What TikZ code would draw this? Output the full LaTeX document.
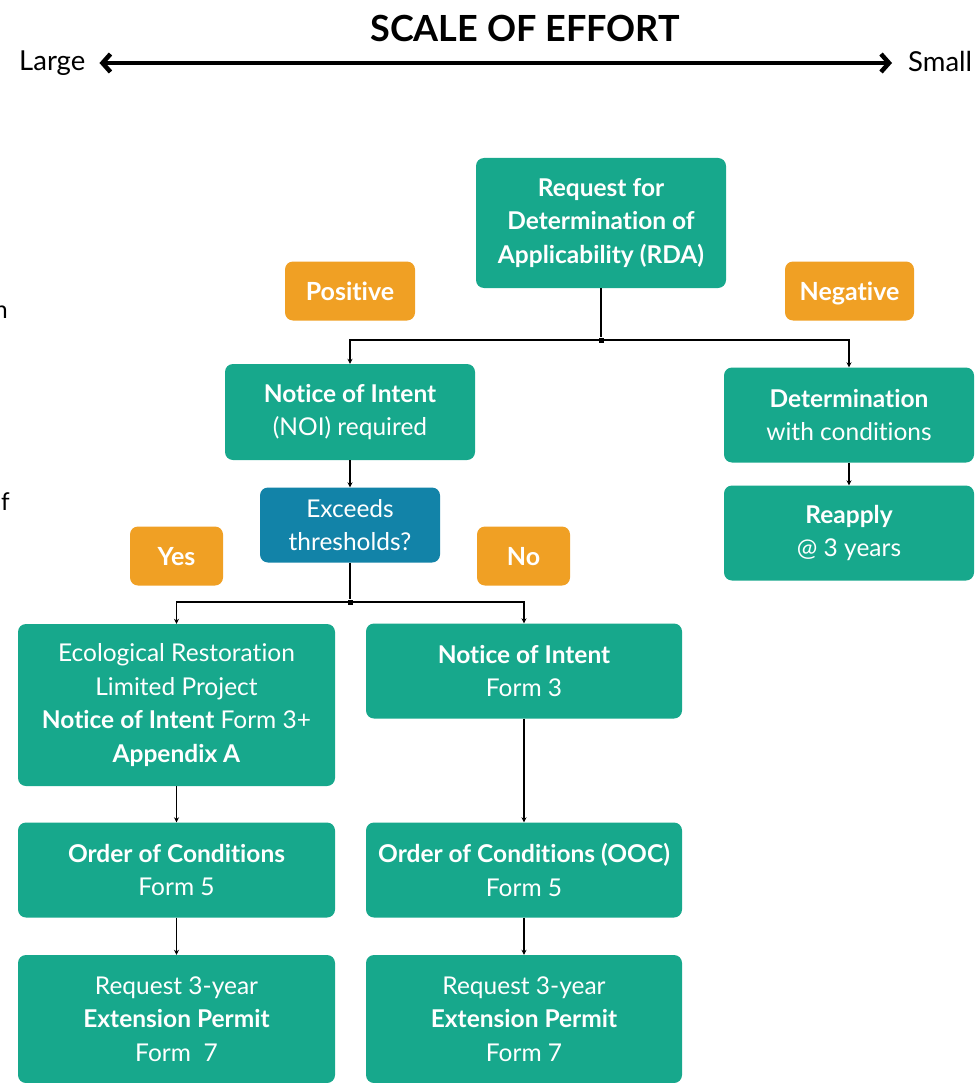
\documentclass[tikz,border=0pt]{standalone}
\usepackage{fontspec}
\setmainfont{Lato}[Ligatures=NoCommon]
\usetikzlibrary{arrows.meta}
\definecolor{boxteal}{RGB}{23,168,140}
\definecolor{tagorange}{RGB}{240,160,36}
\definecolor{askblue}{RGB}{18,131,168}
\tikzset{
  stepbox/.style={fill=boxteal, text=white, rounded corners=8pt, align=center, inner sep=0pt,
    font=\fontsize{24.5}{33.5}\selectfont},
  tagbox/.style={fill=tagorange, text=white, rounded corners=8pt, inner sep=0pt,
    minimum height=59pt, text height=19.5pt, text depth=1.5pt, font=\fontsize{25}{28}\selectfont\bfseries},
  askbox/.style={fill=askblue, text=white, rounded corners=8pt, align=center, inner sep=0pt,
    minimum width=180pt, minimum height=75pt, font=\fontsize{24.5}{33.5}\selectfont},
  junc/.style={fill=black, inner sep=0pt, minimum size=5pt},
  wire/.style={line width=1.2pt},
  link/.style={line width=1.2pt, -{Stealth[length=5pt,width=5pt]}},
  endword/.style={inner sep=0pt, font=\fontsize{27.5}{30}\selectfont}
}
\begin{document}
\begin{tikzpicture}[x=1pt,y=-1pt]
            \useasboundingbox (0,0) rectangle (979,1083);

            % scale of effort
            \node[font=\fontsize{36}{40}\selectfont\bfseries] (title) at (525,28) {SCALE OF EFFORT};
            \node[endword, anchor=west] (large) at (19,63) {Large};
            \node[endword, anchor=west] (small) at (908,61) {Small};
            \draw[line width=4.5pt, {Straight Barb[length=8pt,width=18pt]}-{Straight Barb[length=8pt,width=18pt]}, shorten <=14pt, shorten >=16pt] (large.east) -- (small.west |- large.east);

            % cut-off letters at the left edge
            \node[endword, font=\fontsize{24.5}{28}\selectfont, anchor=base east] (cutn) at (8,318) {n};
            \node[endword, font=\fontsize{24.5}{28}\selectfont, anchor=base east] (cutf) at (10,510) {f};

            % RDA level
            \node[stepbox, minimum width=250pt, minimum height=130pt] (rda) at (601,223) {\bfseries Request for\\\bfseries Determination of\\\bfseries Applicability (RDA)};
            \node[tagbox, minimum width=130pt] (pos) at (350,291) {Positive};
            \node[tagbox, minimum width=129pt] (neg) at (849.5,291) {Negative};

            \node[stepbox, minimum width=250pt, minimum height=96pt] (noi) at (350,412) {\textbf{Notice of Intent}\\(NOI) required};
            \node[stepbox, minimum width=250pt, minimum height=95pt] (det) at (849,415) {\textbf{Determination}\\with conditions};
            \node[stepbox, minimum width=250pt, minimum height=95pt] (reap) at (849,533) {\textbf{Reapply}\\@ 3 years};

            % threshold question
            \node[askbox] (ask) at (350,525) {Exceeds\\thresholds?};
            \node[tagbox, minimum width=93pt] (yes) at (176.5,556) {Yes};
            \node[tagbox, minimum width=93pt] (no) at (523.5,556) {No};

            % left column
            \node[stepbox, minimum width=317pt, minimum height=162pt] (eco) at (176.5,705) {Ecological Restoration\\Limited Project\\\textbf{Notice of Intent} Form 3+\\\textbf{Appendix A}};
            \node[stepbox, minimum width=317pt, minimum height=95pt] (ooc1) at (176.5,870) {\textbf{Order of Conditions}\\Form 5};
            \node[stepbox, minimum width=317pt, minimum height=128pt] (ext1) at (176.5,1019) {Request 3-year\\\textbf{Extension Permit}\\Form~~7};

            % right column
            \node[stepbox, minimum width=316pt, minimum height=95pt] (noi3) at (524,671) {\textbf{Notice of Intent}\\Form 3};
            \node[stepbox, minimum width=316pt, minimum height=95pt] (ooc2) at (524,870) {\textbf{Order of Conditions (OOC)}\\Form 5};
            \node[stepbox, minimum width=316pt, minimum height=128pt] (ext2) at (524,1019) {Request 3-year\\\textbf{Extension Permit}\\Form 7};

            % connectors
            \node[junc] (j1) at (601,340) {};
            \node[junc] (j2) at (350,602) {};
            \draw[wire] (rda) -- (j1);
            \draw[link] (j1.center) -| (noi); \draw[link] (j1.center) -| (det);
            \draw[link] (det) -- (reap);
            \draw[link] (noi) -- (ask);
            \draw[wire] (ask) -- (j2);
            \draw[link] (j2.center) -| (eco); \draw[link] (j2.center) -| (noi3);
            \draw[link] (eco) -- (ooc1); \draw[link] (ooc1) -- (ext1);
            \draw[link] (noi3) -- (ooc2); \draw[link] (ooc2) -- (ext2);
        \end{tikzpicture}
\end{document}
